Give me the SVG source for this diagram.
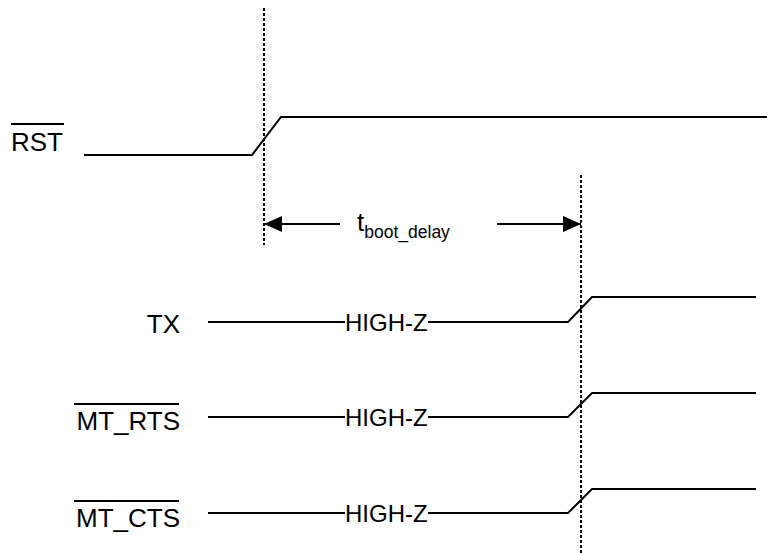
<svg xmlns="http://www.w3.org/2000/svg" width="767" height="553" viewBox="0 0 767 553">
<style>
.sig{fill:none;stroke:#000;stroke-width:2}
.dash{fill:none;stroke:#000;stroke-width:2;stroke-dasharray:3,2}
.lbl{font-family:"Liberation Sans",Arial,sans-serif;font-size:26px;fill:#000}
.hz{font-family:"Liberation Sans",Arial,sans-serif;font-size:24px;fill:#000}
.ov{stroke:#000;stroke-width:1.8}
</style>
<defs>
<marker id="ah" markerWidth="18" markerHeight="16" refX="18" refY="8" orient="auto" markerUnits="userSpaceOnUse">
<path d="M0,0 L18,8 L0,16 Z" fill="#000"/>
</marker>
</defs>
<rect width="767" height="553" fill="#fff"/>
<g id="connectors">
<line class="dash" x1="264" y1="8" x2="264" y2="245"/>
<line class="dash" x1="581" y1="175" x2="581" y2="553"/>
<line class="sig" x1="340" y1="224" x2="264" y2="224" marker-end="url(#ah)"/>
<line class="sig" x1="497" y1="224" x2="581" y2="224" marker-end="url(#ah)"/>
</g>
<g id="rst">
<text class="lbl" x="11" y="151">RST</text>
<line class="ov" x1="11" y1="124" x2="64" y2="124"/>
<polyline class="sig" points="84,155 252,155 281,117 767,117"/>
</g>
<g id="tboot">
<text class="lbl" x="357" y="231">t<tspan font-size="17.5" dy="7">boot_delay</tspan></text>
</g>
<g id="tx">
<text class="lbl" x="180" y="333" text-anchor="end">TX</text>
<polyline class="sig" points="208,322 345,322"/>
<text class="hz" x="345" y="331">HIGH-Z</text>
<polyline class="sig" points="428,322 568,322 592,297 756,297"/>
</g>
<g id="mt_rts">
<text class="lbl" x="180" y="430" text-anchor="end">MT_RTS</text>
<line class="ov" x1="74" y1="404" x2="179" y2="404"/>
<polyline class="sig" points="208,417 345,417"/>
<text class="hz" x="345" y="426">HIGH-Z</text>
<polyline class="sig" points="428,417 568,417 592,393 756,393"/>
</g>
<g id="mt_cts">
<text class="lbl" x="180" y="527" text-anchor="end">MT_CTS</text>
<line class="ov" x1="74" y1="501" x2="179" y2="501"/>
<polyline class="sig" points="208,513 345,513"/>
<text class="hz" x="345" y="522">HIGH-Z</text>
<polyline class="sig" points="428,513 568,513 592,489 756,489"/>
</g>
</svg>
